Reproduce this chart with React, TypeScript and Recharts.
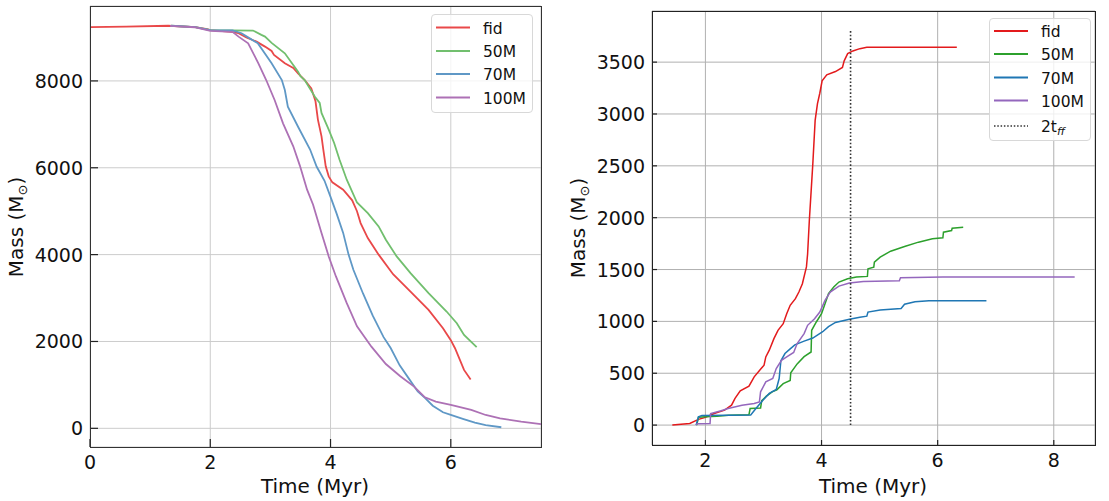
import { LineChart, Line, XAxis, YAxis, CartesianGrid } from "recharts";

const FONT = "'DejaVu Sans', sans-serif";
const INK = "#111";

// left panel: gas mass left in the cloud [time (Myr), mass (Msun)]
const fidGas = [
  [0, 9240], [0.6, 9250], [1.3, 9270], [1.75, 9240], [1.95, 9195], [2.0, 9170],
  [2.35, 9130], [2.47, 9098], [2.6, 9000], [2.77, 8905], [2.91, 8790], [3.02, 8690],
  [3.06, 8600], [3.24, 8406], [3.38, 8300], [3.46, 8175], [3.57, 8021], [3.68, 7829],
  [3.75, 7531], [3.79, 7109], [3.85, 6724], [3.88, 6417], [3.92, 6033], [3.97, 5802],
  [4.03, 5664], [4.21, 5495], [4.36, 5250], [4.44, 5000], [4.5, 4726], [4.62, 4380],
  [4.8, 4000], [5.04, 3550], [5.33, 3150], [5.63, 2728], [5.87, 2306], [6.0, 2030],
  [6.07, 1844], [6.22, 1345], [6.33, 1125],
];
const m50Gas = [
  [1.35, 9270], [1.75, 9240], [2.0, 9170], [2.71, 9160], [2.85, 9060], [2.91, 9020],
  [3.02, 8876], [3.24, 8636], [3.46, 8213], [3.5, 8108], [3.57, 8021], [3.74, 7637],
  [3.82, 7493], [3.85, 7262], [3.97, 6878], [4.06, 6571], [4.15, 6186], [4.27, 5725],
  [4.44, 5200], [4.62, 4957], [4.8, 4649], [4.92, 4342], [5.1, 3958], [5.33, 3574],
  [5.63, 3112], [5.93, 2690], [6.1, 2421], [6.22, 2152], [6.43, 1870],
];
const m70Gas = [
  [1.35, 9270], [1.75, 9240], [2.0, 9170], [2.37, 9165], [2.52, 9098], [2.67, 8968],
  [2.79, 8867], [3.02, 8406], [3.19, 8021], [3.24, 7790], [3.29, 7406], [3.46, 6945],
  [3.66, 6420], [3.77, 6023], [3.9, 5700], [4.0, 5330], [4.1, 4950], [4.21, 4500],
  [4.3, 4000], [4.38, 3650], [4.54, 3105], [4.7, 2600], [4.88, 2105], [5.0, 1850],
  [5.15, 1450], [5.3, 1150], [5.45, 850], [5.57, 700], [5.7, 520], [5.87, 370],
  [6.0, 310], [6.2, 220], [6.4, 130], [6.58, 75], [6.84, 25],
];
const m100Gas = [
  [1.33, 9266], [1.74, 9236], [2.0, 9150], [2.37, 9130], [2.47, 9020], [2.63, 8867],
  [2.8, 8406], [2.93, 8021], [3.07, 7560], [3.21, 7023], [3.38, 6494], [3.49, 6050],
  [3.61, 5495], [3.71, 5150], [3.85, 4496], [3.97, 3958], [4.09, 3497], [4.27, 2882],
  [4.44, 2350], [4.68, 1880], [4.92, 1480], [5.16, 1200], [5.39, 961], [5.57, 715],
  [5.75, 615], [6.0, 540], [6.34, 423], [6.58, 307], [6.82, 231], [7.17, 154], [7.5, 95],
];

// right panel: mass in stars [time (Myr), mass (Msun)]
const fidStars = [
  [1.43, 0], [1.73, 16], [1.88, 55], [2.0, 74], [2.15, 112], [2.33, 144], [2.45, 192],
  [2.51, 257], [2.6, 330], [2.75, 375], [2.84, 465], [2.96, 545], [3.01, 577],
  [3.04, 657], [3.1, 722], [3.18, 834], [3.25, 914], [3.34, 978], [3.4, 1074],
  [3.46, 1155], [3.55, 1219], [3.61, 1283], [3.67, 1363], [3.74, 1525], [3.76, 1650],
  [3.79, 1975], [3.85, 2521], [3.89, 2938], [3.93, 3100], [3.97, 3200], [4.01, 3320],
  [4.09, 3377], [4.24, 3409], [4.36, 3448], [4.39, 3512], [4.45, 3582], [4.54, 3608],
  [4.66, 3630], [4.78, 3643], [6.33, 3643],
];
const m50Stars = [
  [1.85, 0], [1.88, 75], [2.0, 80], [2.2, 85], [2.4, 95], [2.75, 100], [2.77, 160],
  [2.95, 165], [2.97, 235], [3.05, 280], [3.15, 320], [3.23, 340], [3.34, 400],
  [3.46, 430], [3.47, 505], [3.58, 590], [3.7, 660], [3.82, 705], [3.83, 914],
  [3.91, 994], [4.0, 1074], [4.06, 1170], [4.12, 1267], [4.21, 1331], [4.3, 1379],
  [4.45, 1411], [4.6, 1427], [4.79, 1434], [4.8, 1507], [4.9, 1523], [4.91, 1571],
  [5.01, 1620], [5.19, 1677], [5.43, 1722], [5.67, 1764], [5.91, 1796], [6.09, 1806],
  [6.1, 1860], [6.24, 1876], [6.25, 1898], [6.44, 1908],
];
const m70Stars = [
  [1.84, 0], [1.88, 80], [1.94, 92], [2.4, 96], [2.78, 98], [2.87, 160], [2.99, 240],
  [3.1, 305], [3.22, 343], [3.27, 449], [3.3, 620], [3.37, 690], [3.46, 735],
  [3.54, 774], [3.7, 810], [3.85, 839], [4.02, 900], [4.12, 950], [4.24, 990],
  [4.48, 1020], [4.66, 1040], [4.78, 1050], [4.8, 1090], [5.01, 1110], [5.37, 1125],
  [5.43, 1165], [5.61, 1190], [5.85, 1198], [6.84, 1198],
];
const m100Stars = [
  [1.84, 0], [1.86, 14], [2.08, 16], [2.09, 112], [2.27, 138], [2.39, 160], [2.63, 192],
  [2.84, 208], [2.93, 224], [2.95, 321], [3.04, 417], [3.16, 449], [3.22, 545],
  [3.31, 625], [3.4, 657], [3.52, 700], [3.58, 786], [3.7, 882], [3.76, 962],
  [3.88, 1026], [3.97, 1090], [4.06, 1203], [4.15, 1283], [4.3, 1340], [4.48, 1370],
  [4.72, 1385], [5.34, 1392], [5.36, 1420], [6.09, 1427], [8.36, 1427],
];
const freefall = [[4.5, 0], [4.5, 3800]];

const seriesNames = ["fid", "50M", "70M", "100M"];
const leftColors = ["#e94849", "#71bf6e", "#5f98c6", "#ad71b5"];
const rightColors = ["#e31a1c", "#2ca02c", "#1f77b4", "#9467bd"];

const leftXTicks = [0, 2, 4, 6];
const leftYTicks = [0, 2000, 4000, 6000, 8000];
const rightXTicks = [2, 4, 6, 8];
const rightYTicks = [0, 500, 1000, 1500, 2000, 2500, 3000, 3500];

const rows = (pts: number[][]) => pts.map(([t, m]) => ({ t, m }));

function XTick(props: any) {
  const { x, y, payload, len } = props;
  return (
    <g>
      <line x1={x} x2={x} y1={y} y2={y - len} stroke="#222" strokeWidth={1.2} />
      <text x={x} y={y + 22} textAnchor="middle" fontSize={19} fill={INK} fontFamily={FONT}>
        {payload.value}
      </text>
    </g>
  );
}

function YTick(props: any) {
  const { x, y, payload, len } = props;
  return (
    <g>
      <line x1={x} x2={x + len} y1={y} y2={y} stroke="#222" strokeWidth={1.2} />
      <text x={x - 7} y={y + 7} textAnchor="end" fontSize={19} fill={INK} fontFamily={FONT}>
        {payload.value}
      </text>
    </g>
  );
}

function Frame({ left, top, width, height, color }: any) {
  return (
    <div
      style={{
        position: "absolute",
        left: left - 0.5,
        top: top - 0.5,
        width: width + 1,
        height: height + 1,
        border: `1.2px solid ${color}`,
        boxSizing: "border-box",
        pointerEvents: "none",
      }}
    />
  );
}

function LegendBox({ left, top, width, height, labels, colors, rowsY, extra }: any) {
  return (
    <div
      style={{
        position: "absolute",
        left,
        top,
        width,
        height,
        border: "1px solid #d8d8d8",
        borderRadius: 4,
        background: "rgba(255,255,255,0.8)",
        boxSizing: "border-box",
      }}
    >
      <svg width={width} height={height} style={{ position: "absolute", left: -1, top: -1 }}>
        {labels.map((s: string, i: number) => (
          <g key={s}>
            <line x1={5} x2={39} y1={rowsY[i]} y2={rowsY[i]} stroke={colors[i]} strokeWidth={2} />
            <text x={52} y={rowsY[i] + 6} fontSize={15.5} fill={INK} fontFamily={FONT}>
              {s}
            </text>
          </g>
        ))}
        {extra}
      </svg>
    </div>
  );
}

function MassLabel({ x, y }: any) {
  return (
    <text
      x={x}
      y={y}
      transform={`rotate(-90, ${x}, ${y})`}
      textAnchor="middle"
      fontSize={20}
      fill={INK}
      fontFamily={FONT}
    >
      Mass (M
      <tspan fontSize={13} dy={4}>⊙</tspan>
      <tspan dy={-4}>)</tspan>
    </text>
  );
}

export default function App() {
  const leftSeries = [fidGas, m50Gas, m70Gas, m100Gas];
  const rightSeries = [fidStars, m50Stars, m70Stars, m100Stars];
  return (
    <div style={{ position: "absolute", left: 0, top: 0, width: 1109, height: 501, fontFamily: FONT, background: "#fff" }}>
      <div style={{ position: "absolute", left: 0, top: 0 }}>
        <LineChart width={560} height={501} margin={{ top: 6, right: 19, bottom: 0, left: 0 }}>
          <CartesianGrid stroke="#cccccc" strokeWidth={1} />
          <XAxis
            dataKey="t"
            type="number"
            domain={[0, 7.5]}
            ticks={leftXTicks}
            allowDataOverflow
            height={54}
            axisLine={false}
            tickLine={false}
            tickSize={0}
            tickMargin={0}
            tick={(p: any) => <XTick {...p} len={8} />}
          />
          <YAxis
            type="number"
            domain={[-430, 9725]}
            ticks={leftYTicks}
            allowDataOverflow
            width={90}
            axisLine={false}
            tickLine={false}
            tickSize={0}
            tickMargin={0}
            tick={(p: any) => <YTick {...p} len={8} />}
          />
          {leftSeries.map((s, i) => (
            <Line
              key={seriesNames[i]}
              data={rows(s)}
              dataKey="m"
              type="linear"
              stroke={leftColors[i]}
              strokeWidth={1.8}
              dot={false}
              isAnimationActive={false}
            />
          ))}
        </LineChart>
      </div>
      <div style={{ position: "absolute", left: 560, top: 0 }}>
        <LineChart width={549} height={501} margin={{ top: 11, right: 14, bottom: 0, left: 0 }}>
          <CartesianGrid stroke="#b0b0b0" strokeWidth={1} />
          <XAxis
            dataKey="t"
            type="number"
            domain={[1.08, 8.71]}
            ticks={rightXTicks}
            allowDataOverflow
            height={56}
            axisLine={false}
            tickLine={false}
            tickSize={0}
            tickMargin={0}
            tick={(p: any) => <XTick {...p} len={5} />}
          />
          <YAxis
            type="number"
            domain={[-192, 3993]}
            ticks={rightYTicks}
            allowDataOverflow
            width={92}
            axisLine={false}
            tickLine={false}
            tickSize={0}
            tickMargin={0}
            tick={(p: any) => <YTick {...p} len={5} />}
          />
          {rightSeries.map((s, i) => (
            <Line
              key={seriesNames[i]}
              data={rows(s)}
              dataKey="m"
              type="linear"
              stroke={rightColors[i]}
              strokeWidth={1.5}
              dot={false}
              isAnimationActive={false}
            />
          ))}
          <Line
            data={rows(freefall)}
            dataKey="m"
            type="linear"
            stroke="#333"
            strokeWidth={1.6}
            strokeDasharray="1.6 2"
            dot={false}
            isAnimationActive={false}
          />
        </LineChart>
      </div>

      <Frame left={90} top={6} width={451} height={441} color="#333" />
      <Frame left={652} top={11} width={443} height={434} color="#222" />

      <svg width={1109} height={501} style={{ position: "absolute", left: 0, top: 0, pointerEvents: "none" }}>
        <text x={315} y={493} textAnchor="middle" fontSize={20} fill={INK} fontFamily={FONT}>Time (Myr)</text>
        <text x={873} y={493} textAnchor="middle" fontSize={20} fill={INK} fontFamily={FONT}>Time (Myr)</text>
        <MassLabel x={23} y={227} />
        <MassLabel x={585} y={228} />
      </svg>

      <LegendBox
        left={431}
        top={14}
        width={102}
        height={99}
        labels={seriesNames}
        colors={leftColors}
        rowsY={[13.5, 37, 60, 83.5]}
      />
      <LegendBox
        left={989}
        top={18}
        width={102}
        height={123}
        labels={seriesNames}
        colors={rightColors}
        rowsY={[13, 36, 59.5, 82.5]}
        extra={
          <g>
            <line x1={5} x2={39} y1={108} y2={108} stroke="#333" strokeWidth={1.5} strokeDasharray="1.5 1.8" />
            <text x={52} y={114} fontSize={15.5} fill={INK} fontFamily={FONT}>
              2t
              <tspan fontSize={11} fontStyle="italic" dy={3}>ff</tspan>
            </text>
          </g>
        }
      />
    </div>
  );
}
